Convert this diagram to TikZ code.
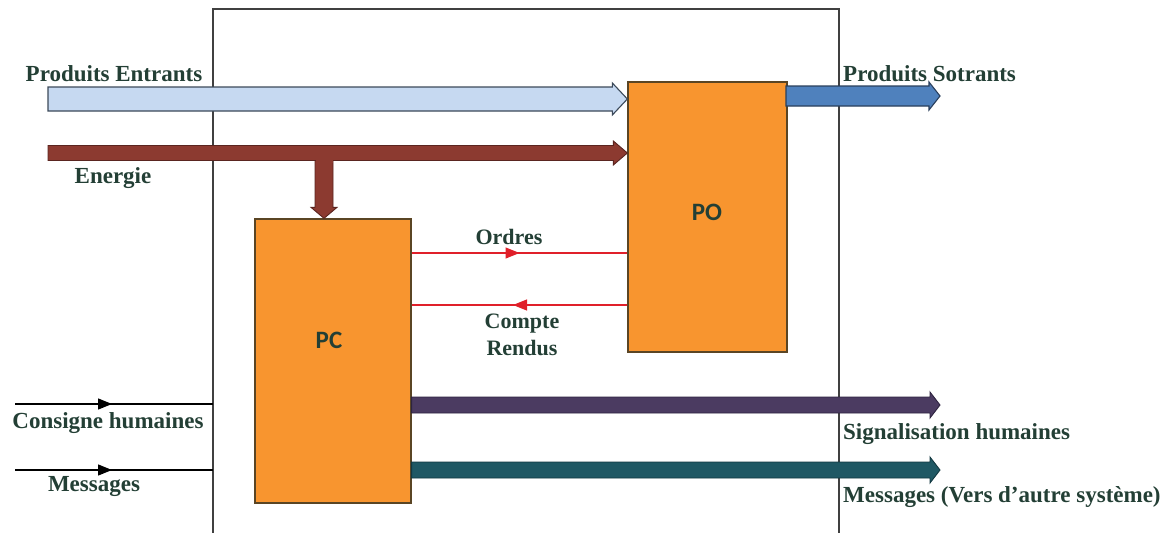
\documentclass[tikz,border=0pt]{standalone}
\usepackage{fontspec}
\setmainfont{Liberation Serif}
\newfontfamily\boxfont{Carlito}
\usetikzlibrary{calc,arrows.meta,decorations.markings}
\definecolor{txt}{HTML}{233F35}
\definecolor{boxfill}{HTML}{F8952F}
\definecolor{boxborder}{HTML}{5A4524}
\definecolor{peFill}{HTML}{C6D9F1}
\definecolor{peBorder}{HTML}{3C4A5A}
\definecolor{enFill}{HTML}{8C3A30}
\definecolor{enBorder}{HTML}{5A2520}
\definecolor{psFill}{HTML}{4F81BD}
\definecolor{psBorder}{HTML}{2A3F5C}
\definecolor{sgFill}{HTML}{4B3B61}
\definecolor{sgBorder}{HTML}{2E2440}
\definecolor{msFill}{HTML}{1F5864}
\definecolor{msBorder}{HTML}{123840}
\definecolor{ordRed}{HTML}{E0202A}
\definecolor{frame}{HTML}{404040}
% horizontal block arrow: start, end, half body, half head, head length, style
\newcommand\hblock[6]{%
  \path[#6] let \p1=(#1), \p2=(#2) in
    (\x1,\y1+#3) -- (\x2-#5,\y1+#3) -- (\x2-#5,\y1+#4) -- (\x2,\y1)
    -- (\x2-#5,\y1-#4) -- (\x2-#5,\y1-#3) -- (\x1,\y1-#3) -- cycle;}
% vertical (downward) block arrow
\newcommand\vblock[6]{%
  \path[#6] let \p1=(#1), \p2=(#2) in
    (\x1-#3,\y1) -- (\x1-#3,\y2+#5) -- (\x1-#4,\y2+#5) -- (\x1,\y2)
    -- (\x1+#4,\y2+#5) -- (\x1+#3,\y2+#5) -- (\x1+#3,\y1) -- cycle;}
\begin{document}
\begin{tikzpicture}[x=1pt,y=-1pt,
  lbl/.style={font=\bfseries\fontsize{23}{26}\selectfont, text=txt, inner sep=0pt},
  boxtext/.style={font=\boxfont\bfseries\fontsize{25}{28}\selectfont, text=txt, inner sep=0pt},
  blockbox/.style={draw=boxborder, fill=boxfill, line width=1.3pt, inner sep=0pt},
  framestyle/.style={draw=frame, line width=1.4pt},
  midtip/.style={postaction={decorate}, decoration={markings,
     mark=at position #1 with {\arrow{Triangle[length=14pt,width=11pt]}}}},
  redline/.style={draw=ordRed, line width=1.2pt},
  inline/.style={draw=black, line width=1.3pt},
  pestyle/.style={fill=peFill, draw=peBorder, line width=1.1pt},
  enstyle/.style={fill=enFill, draw=enBorder, line width=0.9pt},
  psstyle/.style={fill=psFill, draw=psBorder, line width=1.1pt},
  sgstyle/.style={fill=sgFill, draw=sgBorder, line width=0.9pt},
  msstyle/.style={fill=msFill, draw=msBorder, line width=0.9pt}]
\useasboundingbox[fill=white] (0,0) rectangle (1171,533);

% outer frame
\coordinate (frBL) at (213,534);
\coordinate (frTL) at (213,9);
\coordinate (frTR) at (839,9);
\coordinate (frBR) at (839,534);
\draw[framestyle] (frBL) -- (frTL) -- (frTR) -- (frBR);

% blocks
\node[blockbox, minimum width=159pt, minimum height=270pt] (PO) at (707.5,217) {};
\node[blockbox, minimum width=156pt, minimum height=284pt] (PC) at (333,361) {};
\node[boxtext] (POt) at (707,212) {PO};
\node[boxtext] (PCt) at (329,340) {PC};

% Produits Entrants
\coordinate (peStart) at (48,99);
\hblock{peStart}{PO.west|-peStart}{12pt}{16pt}{15pt}{pestyle}
\node[lbl] (peL) at (114,74) {Produits Entrants};

% Energie
\coordinate (enStart) at (48,153);
\coordinate (enBranch) at (324,153);
\vblock{enBranch}{PC.north-|enBranch}{9pt}{13pt}{11pt}{enstyle}
\hblock{enStart}{PO.west|-enStart}{7.5pt}{12pt}{14pt}{enstyle}
\fill[enFill] ($(enBranch)+(-8.5,-3)$) rectangle ($(enBranch)+(8.5,10)$);
\node[lbl] (enL) at (113,178) {Energie};

% Produits Sotrants
\coordinate (psStart) at (786,96);
\coordinate (psEnd) at (940,96);
\hblock{psStart}{psEnd}{10pt}{14pt}{11pt}{psstyle}
\node[lbl, anchor=west] (psL) at (843,74) {Produits Sotrants};

% Ordres / Compte Rendus
\coordinate (ordY) at (0,253);
\coordinate (crY) at (0,305);
\draw[redline, color=ordRed, midtip=0.5] (PC.east|-ordY) -- (PO.west|-ordY);
\draw[redline, color=ordRed, midtip=0.53] (PO.west|-crY) -- (PC.east|-crY);
\node[lbl, font=\bfseries\fontsize{22}{25}\selectfont] (ordL) at (509,237) {Ordres};
\node[lbl, font=\bfseries\fontsize{22}{27}\selectfont, align=center] (crL) at (522,335) {Compte\\Rendus};

% Signalisation humaines
\coordinate (sgY) at (0,405);
\coordinate (sgEnd) at (940,405);
\hblock{PC.east|-sgY}{sgEnd}{8pt}{13pt}{10pt}{sgstyle}
\node[lbl, anchor=west] (sgL) at (843,434) {Signalisation humaines};

% Messages (vers d'autre systeme)
\coordinate (msY) at (0,470);
\coordinate (msEnd) at (940,470);
\hblock{PC.east|-msY}{msEnd}{8pt}{13pt}{10pt}{msstyle}
\node[lbl, anchor=west] (msL) at (843,497) {Messages (Vers d’autre système)};

% Inputs on the left
\coordinate (ciStart) at (15,404);
\coordinate (miStart) at (15,470);
\draw[inline, midtip=0.49] (ciStart) -- (ciStart-|frTL);
\draw[inline, midtip=0.49] (miStart) -- (miStart-|frTL);
\node[lbl] (ciL) at (108,423) {Consigne humaines};
\node[lbl] (miL) at (94,487) {Messages};
\end{tikzpicture}
\end{document}
